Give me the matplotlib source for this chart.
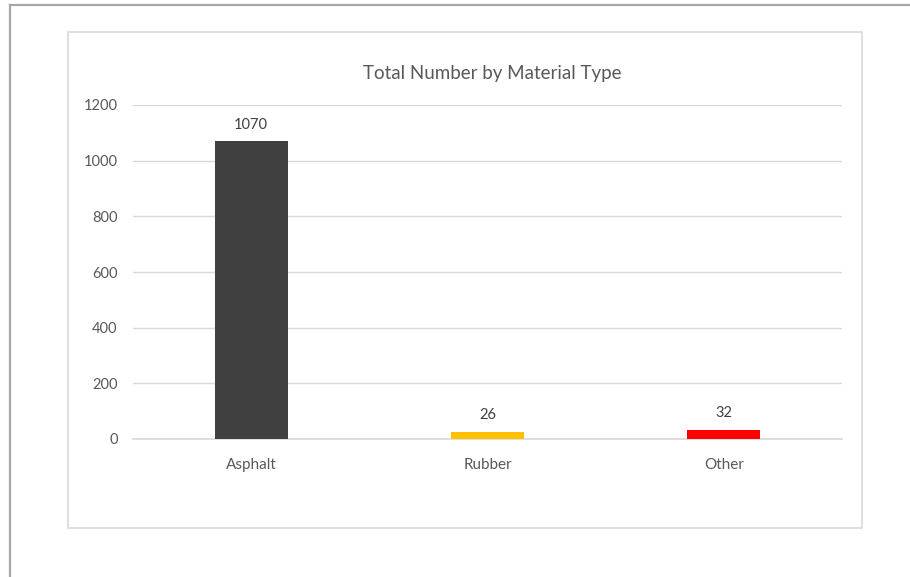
import matplotlib
matplotlib.use("Agg")
import matplotlib.pyplot as plt
from matplotlib.patches import Rectangle
from matplotlib.lines import Line2D

categories = ["Asphalt", "Rubber", "Other"]
values = [1070, 26, 32]
colors = ["#404040", "#FFC000", "#FF0000"]
yticks = [0, 200, 400, 600, 800, 1000, 1200]

plt.rcParams['font.family'] = ['Lato', 'DejaVu Sans']
W, H = 910, 577
fig = plt.figure(figsize=(W/100, H/100), dpi=100)
fig.patch.set_facecolor("white")

def fx(x): return x / W
def fy(y): return 1 - y / H

# outer frame lines
fig.add_artist(Line2D([fx(10), fx(910)], [fy(5), fy(5)], color="#A6A6A6", lw=1.6))
fig.add_artist(Line2D([fx(10), fx(10)], [fy(5), fy(577)], color="#A6A6A6", lw=1.6))
# inner chart box
fig.add_artist(Rectangle((fx(68), fy(528)), fx(862) - fx(68), fy(32) - fy(528),
                         fill=False, edgecolor="#D9D9D9", lw=1.2))

ax = fig.add_axes([fx(133), fy(439), fx(842) - fx(133), fy(105) - fy(439)])
x = list(range(len(categories)))
bars = ax.bar(x, values, width=0.31, color=colors, zorder=3)
ax.set_xlim(-0.5, len(categories) - 0.5)
ax.set_ylim(0, 1200)
ax.set_yticks(yticks)
ax.set_yticklabels([str(v) for v in yticks])
ax.set_xticks(x)
ax.set_xticklabels(categories)
for s in ax.spines.values():
    s.set_visible(False)
ax.grid(axis="y", color="#D9D9D9", lw=1, zorder=0)
ax.axhline(0, color="#D9D9D9", lw=1.2, zorder=2, clip_on=False)
ax.tick_params(axis="both", length=0, colors="#595959", labelsize=10.5)
ax.tick_params(axis="y", pad=11)
ax.tick_params(axis="x", labelsize=11, pad=14)
for b, v in zip(bars, values):
    ax.annotate(str(v), (b.get_x() + b.get_width()/2, v), xytext=(0, 12),
                textcoords="offset points", ha="center", va="center",
                fontsize=10.5, color="#404040")
fig.text(fx(492), fy(73.5), "Total Number by Material Type", ha="center", va="center",
         fontsize=13.5, color="#595959")
fig.savefig("out.png", dpi=100)
